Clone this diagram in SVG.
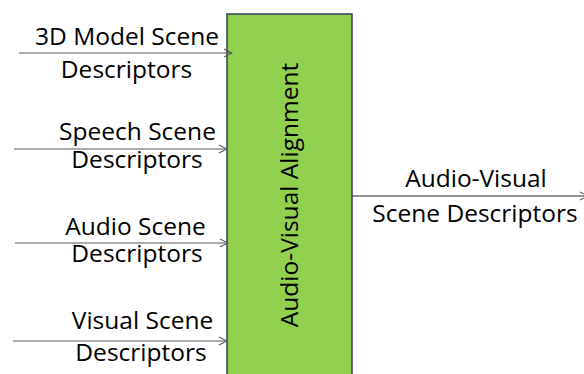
<svg xmlns="http://www.w3.org/2000/svg" width="584" height="374" viewBox="0 0 584 374">
  <style>
    .lbl { font-family: "Open Sans", "Liberation Sans", sans-serif; font-size: 24.5px; fill: #000; text-anchor: middle; }
    .conn { stroke: #595959; stroke-width: 1.2; fill: none; }
    .out { stroke: #262626; stroke-width: 1.2; fill: none; }
    .block { fill: #92D050; stroke: #2F3E5C; stroke-width: 1.5; }
  </style>
  <defs>
    <marker id="chev" viewBox="0 0 10 10" refX="9" refY="5" markerWidth="10" markerHeight="10" markerUnits="userSpaceOnUse" orient="auto">
      <path d="M1,1 L9,5 L1,9" fill="none" stroke="#595959" stroke-width="1.1"/>
    </marker>
  </defs>
  <rect width="584" height="374" fill="#fff"/>

  <g id="alignment-block">
    <rect class="block" x="227" y="14" width="125" height="370"/>
    <text class="lbl" transform="translate(298,195) rotate(-90)">Audio-Visual Alignment</text>
  </g>

  <g id="connectors">
    <line class="conn" x1="19" y1="53" x2="232" y2="53" marker-end="url(#chev)"/>
    <line class="conn" x1="14" y1="149" x2="227" y2="149" marker-end="url(#chev)"/>
    <line class="conn" x1="15" y1="243" x2="228" y2="243" marker-end="url(#chev)"/>
    <line class="conn" x1="13" y1="341" x2="227" y2="341" marker-end="url(#chev)"/>
    <line class="out" x1="352" y1="196" x2="588" y2="196" marker-end="url(#chev)"/>
  </g>

  <g id="model-input">
    <text class="lbl" x="127" y="45">3D Model Scene</text>
    <text class="lbl" x="126.5" y="78">Descriptors</text>
  </g>
  <g id="speech-input">
    <text class="lbl" x="137.5" y="140">Speech Scene</text>
    <text class="lbl" x="137" y="168">Descriptors</text>
  </g>
  <g id="audio-input">
    <text class="lbl" x="135.5" y="235">Audio Scene</text>
    <text class="lbl" x="137" y="262">Descriptors</text>
  </g>
  <g id="visual-input">
    <text class="lbl" x="142.5" y="329">Visual Scene</text>
    <text class="lbl" x="141" y="361">Descriptors</text>
  </g>
  <g id="av-output">
    <text class="lbl" x="476" y="187">Audio-Visual</text>
    <text class="lbl" x="475" y="222">Scene Descriptors</text>
  </g>
</svg>
